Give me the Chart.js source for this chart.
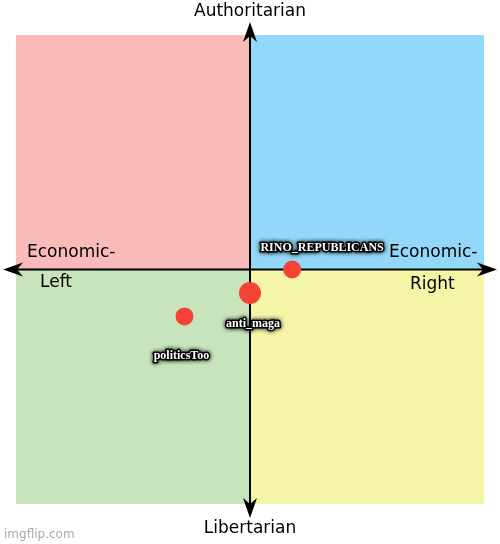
<!DOCTYPE html>
<html>
<head>
<meta charset="utf-8">
<script src="https://cdn.jsdelivr.net/npm/chart.js@4"></script>
<style>
  html, body { margin: 0; padding: 0; background: #fff; }
  #wrap { width: 500px; height: 544px; }
</style>
</head>
<body>
<div id="wrap"><canvas id="c"></canvas></div>
<script>
const names = ['RINO_REPUBLICANS', 'anti_maga', 'politicsToo'];
const xValues = [1.8, 0.0, -2.8];
const yValues = [0.0, -1.0, -2.0];
const sizes = [9, 11, 9];

// where each name sits relative to its dot, in pixels
const labelOffsets = [[30, -22], [3, 31], [-3, 40]];

const compassPlugin = {
  id: 'compass',
  beforeDatasetsDraw(chart) {
    const ctx = chart.ctx;
    const x = chart.scales.x, y = chart.scales.y;
    const l = x.getPixelForValue(-10), r = x.getPixelForValue(10);
    const t = y.getPixelForValue(10), b = y.getPixelForValue(-10);
    const cx = x.getPixelForValue(0), cy = y.getPixelForValue(0);
    ctx.save();
    ctx.fillStyle = '#f9baba'; ctx.fillRect(l, t, cx - l, cy - t);
    ctx.fillStyle = '#93d8f8'; ctx.fillRect(cx, t, r - cx, cy - t);
    ctx.fillStyle = '#c8e4bc'; ctx.fillRect(l, cy, cx - l, b - cy);
    ctx.fillStyle = '#f5f5a8'; ctx.fillRect(cx, cy, r - cx, b - cy);

    ctx.strokeStyle = '#000'; ctx.fillStyle = '#000'; ctx.lineWidth = 2;
    ctx.beginPath();
    ctx.moveTo(14, cy); ctx.lineTo(486, cy);
    ctx.moveTo(cx, 32); ctx.lineTo(cx, 508);
    ctx.stroke();
    const arrow = (px, py, dx, dy) => {
      ctx.beginPath();
      ctx.moveTo(px, py);
      ctx.lineTo(px - dx * 20 + dy * 7, py - dy * 20 + dx * 7);
      ctx.lineTo(px - dx * 14, py - dy * 14);
      ctx.lineTo(px - dx * 20 - dy * 7, py - dy * 20 - dx * 7);
      ctx.closePath(); ctx.fill();
    };
    arrow(3, cy, -1, 0); arrow(497, cy, 1, 0);
    arrow(cx, 22, 0, -1); arrow(cx, 518, 0, 1);

    ctx.font = '17px "DejaVu Sans"';
    ctx.textBaseline = 'middle';
    ctx.textAlign = 'center';
    ctx.fillText('Authoritarian', cx, 12);
    ctx.fillText('Libertarian', cx, 529);
    ctx.textAlign = 'left';
    ctx.fillText('Economic-', 27, 253);
    ctx.fillText('Left', 40, 283);
    ctx.fillText('Economic-', 389, 253);
    ctx.fillText('Right', 410, 285);
    ctx.font = '12px "DejaVu Sans"';
    ctx.fillStyle = '#aaa';
    ctx.fillText('imgflip.com', 4, 535);
    ctx.restore();
  },
  afterDatasetsDraw(chart) {
    const ctx = chart.ctx;
    const x = chart.scales.x, y = chart.scales.y;
    ctx.save();
    ctx.font = 'bold 12px "Liberation Sans Narrow"';
    ctx.textAlign = 'center';
    ctx.textBaseline = 'middle';
    names.forEach((n, i) => {
      const px = x.getPixelForValue(xValues[i]) + labelOffsets[i][0];
      const py = y.getPixelForValue(yValues[i]) + labelOffsets[i][1];
      ctx.shadowColor = '#000'; ctx.shadowBlur = 4;
      ctx.strokeStyle = '#000'; ctx.lineWidth = 3; ctx.lineJoin = 'round';
      ctx.strokeText(n, px, py);
      ctx.shadowBlur = 0;
      ctx.fillStyle = '#fff';
      ctx.fillText(n, px, py);
    });
    ctx.restore();
  }
};

new Chart(document.getElementById('c'), {
  type: 'scatter',
  data: {
    datasets: [{
      data: xValues.map((v, i) => ({ x: v, y: yValues[i] })),
      backgroundColor: '#f44336',
      borderWidth: 0,
      pointRadius: sizes,
      pointHoverRadius: sizes
    }]
  },
  options: {
    responsive: true,
    maintainAspectRatio: false,
    animation: false,
    layout: { padding: { left: 16, right: 16, top: 35, bottom: 40 } },
    plugins: { legend: { display: false }, tooltip: { enabled: false } },
    scales: {
      x: { min: -10, max: 10, display: false },
      y: { min: -10, max: 10, display: false }
    }
  },
  plugins: [compassPlugin]
});
</script>
</body>
</html>
